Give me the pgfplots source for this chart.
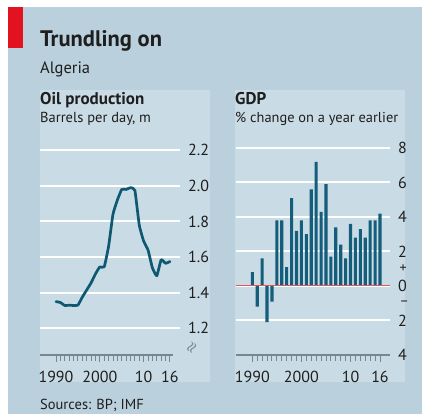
\documentclass[border=0pt]{standalone}
\usepackage{pgfplots}
\pgfplotsset{compat=1.18}
\usepackage{fontspec}
\setmainfont{PT Sans}
\definecolor{bg}{RGB}{186,208,220}
\definecolor{panel}{RGB}{201,220,229}
\definecolor{ecored}{RGB}{227,18,32}
\definecolor{linecol}{RGB}{14,88,114}
\definecolor{barcol}{RGB}{20,94,124}
\definecolor{axisgray}{RGB}{120,135,142}
\definecolor{zerored}{RGB}{232,80,90}
\definecolor{txt}{RGB}{30,30,30}
\begin{document}
\begin{tikzpicture}[x=1pt,y=1pt]
\useasboundingbox (0,0) rectangle (422,414);
\fill[white] (0,0) rectangle (422,414);
\fill[bg] (8,0) rectangle (422,407);
\fill[ecored] (8,407) rectangle (23,366);
\fill[panel] (40,324) rectangle (210,32);
\fill[panel] (235,324) rectangle (405,32);
\node[anchor=base west, inner sep=0pt, font=\fontsize{22.5}{26}\selectfont\bfseries, text=txt] at (40,367.5) {Trundling on};
\node[anchor=base west, inner sep=0pt, font=\fontsize{16.5}{19}\selectfont, text=txt] at (40,340) {Algeria};
\node[anchor=base west, inner sep=0pt, font=\fontsize{17}{19}\selectfont\bfseries, text=txt] at (40,309) {Oil production};
\node[anchor=base west, inner sep=0pt, font=\fontsize{14.5}{17}\selectfont, text=txt] at (40,291) {Barrels per day, m};
\node[anchor=base west, inner sep=0pt, font=\fontsize{17}{19}\selectfont\bfseries, text=txt] at (235,309) {GDP};
\node[anchor=base west, inner sep=0pt, font=\fontsize{14.4}{17}\selectfont, text=txt] at (235,291) {\% change on a year earlier};
\node[anchor=base west, inner sep=0pt, font=\fontsize{14.5}{17}\selectfont, text=txt] at (40,5) {Sources: BP; IMF};
\node[text=axisgray, rotate=60, inner sep=0pt, font=\fontsize{15}{15}\selectfont] at (192,66) {$\approx$};
\node[text=axisgray, rotate=60, inner sep=0pt, font=\fontsize{15}{15}\selectfont] at (192.5,66) {$\approx$};

\begin{axis}[
  at={(40pt,59pt)}, anchor=south west,
  width=140pt, height=213.6pt, scale only axis,
  xmin=1986.35, xmax=2018.3, ymin=1.05, ymax=2.25,
  axis x line=bottom, axis y line=right,
  x axis line style={draw=none},
  y axis line style={draw=none},
  ytick={1.2,1.4,1.6,1.8,2.0,2.2},
  yticklabels={1.2,1.4,1.6,1.8,2.0,2.2},
  major y tick style={draw=none},
  ymajorgrids, grid style={white, line width=2pt},
  xtick={1990,2000,2010,2016},
  xticklabels={1990,2000,10,16},
  minor xtick={1990,...,2016},
  tick align=outside,
  major tick length=7pt, minor tick length=6pt,
  x tick style={axisgray, line width=0.9pt},
  xmajorgrids=false,
  tick label style={font=\fontsize{16}{19}\selectfont, text=txt},
  /pgf/number format/assume math mode=true,
  yticklabel style={anchor=west, inner sep=0pt, xshift=1pt},
  xticklabel style={anchor=base, inner sep=0pt, yshift=-21pt},
  clip=false,
]
\draw[axisgray, line width=1.4pt] (axis cs:1986.35,1.05) -- (axis cs:2016.8,1.05);
\addplot[linecol, line width=2.7pt, line join=round, line cap=round, smooth, tension=0.25] coordinates {
(1990,1.350) (1991,1.345) (1992,1.328) (1993,1.330) (1994,1.328) (1995,1.330)
(1996,1.375) (1997,1.415) (1998,1.455) (1999,1.505) (2000,1.545) (2001,1.545)
(2002,1.660) (2003,1.840) (2004,1.920) (2005,1.980) (2006,1.980) (2007,1.990)
(2008,1.975) (2009,1.780) (2010,1.690) (2011,1.640) (2012,1.540) (2013,1.495)
(2014,1.585) (2015,1.565) (2016,1.575)
};
\end{axis}

\begin{axis}[
  at={(236pt,59pt)}, anchor=south west,
  width=154pt, height=220.8pt, scale only axis,
  xmin=1986.68, xmax=2018.04, ymin=-4, ymax=8.8,
  axis x line=bottom, axis y line=right,
  x axis line style={axisgray, line width=1.4pt, -},
  y axis line style={draw=none},
  ytick={-4,-2,0,2,4,6,8},
  yticklabels={4,2,0,2,4,6,8},
  extra y ticks={-1,1},
  extra y tick labels={–,+},
  extra y tick style={grid=none, yticklabel style={font=\fontsize{14}{15}\selectfont, xshift=1.5pt}},
  major y tick style={draw=none},
  ymajorgrids, grid style={white, line width=2pt},
  xtick={1990,2000,2010,2016},
  xticklabels={1990,2000,10,16},
  minor xtick={1990,...,2016},
  tick align=outside,
  major tick length=7pt, minor tick length=6pt,
  x tick style={axisgray, line width=0.9pt},
  tick label style={font=\fontsize{16}{19}\selectfont, text=txt},
  /pgf/number format/assume math mode=true,
  yticklabel style={anchor=west, inner sep=0pt, xshift=1pt},
  xticklabel style={anchor=base, inner sep=0pt, yshift=-21pt},
  clip=false,
]
\addplot[ybar, bar width=3.1pt, fill=barcol, draw=none] coordinates {
(1990,0.8) (1991,-1.2) (1992,1.6) (1993,-2.1) (1994,-0.9) (1995,3.8)
(1996,3.8) (1997,1.1) (1998,5.1) (1999,3.2) (2000,3.8) (2001,3.0)
(2002,5.6) (2003,7.2) (2004,4.3) (2005,5.9) (2006,1.7) (2007,3.4)
(2008,2.4) (2009,1.6) (2010,3.6) (2011,2.8) (2012,3.3) (2013,2.8)
(2014,3.8) (2015,3.8) (2016,4.2)
};
\draw[zerored, line width=1pt] (axis cs:1986.68,0) -- (axis cs:2018.04,0);
\end{axis}
\end{tikzpicture}
\end{document}
